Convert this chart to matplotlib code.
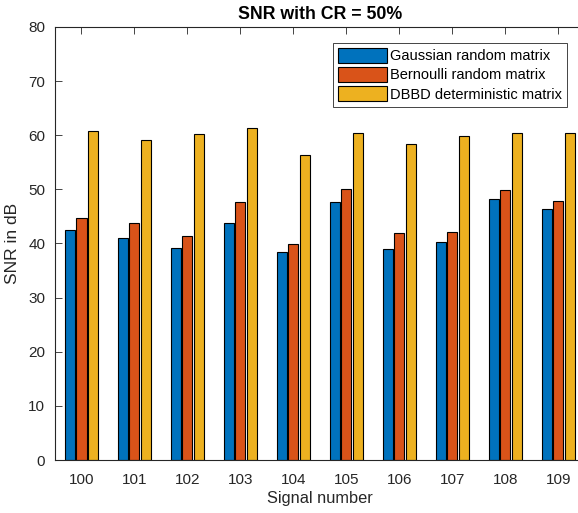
import matplotlib
matplotlib.use("Agg")
import matplotlib.pyplot as plt
import numpy as np

plt.rcParams['font.family'] = ['Liberation Sans', 'DejaVu Sans']

signals = [100, 101, 102, 103, 104, 105, 106, 107, 108, 109]
gaussian = [42.5, 41.0, 39.2, 43.8, 38.4, 47.7, 39.0, 40.3, 48.2, 46.4]
bernoulli = [44.8, 43.7, 41.4, 47.6, 39.9, 50.0, 41.9, 42.1, 49.8, 47.9]
dbbd = [60.8, 59.1, 60.2, 61.3, 56.4, 60.5, 58.3, 59.9, 60.5, 60.5]
series_names = ["Gaussian random matrix", "Bernoulli random matrix", "DBBD deterministic matrix"]
colors = ["#0072BD", "#D95319", "#EDB120"]

fig = plt.figure(figsize=(5.78, 5.13), dpi=100)
ax = fig.add_axes([55/578, 1-460/513, (584.7-55)/578, (460-27)/513])

x = np.array(signals, dtype=float)
offset = 0.22
width = 0.19
for i, (vals, name, c) in enumerate(zip([gaussian, bernoulli, dbbd], series_names, colors)):
    ax.bar(x + (i-1)*offset, vals, width=width, color=c, edgecolor='black',
           linewidth=0.8, label=name, zorder=2)

ax.set_xlim(99.5, 109.5)
ax.set_ylim(0, 80)
ax.set_xticks(signals)
ax.set_yticks(range(0, 81, 10))
ax.tick_params(direction='in', length=5, width=0.6, top=True, right=True,
               labelsize=11, colors='#262626', labelcolor='#262626')
ax.tick_params(axis='x', pad=9)
ax.tick_params(axis='y', pad=7)
for s in ax.spines.values():
    s.set_color('#262626')
    s.set_linewidth(0.8)

ax.set_title("SNR with CR = 50%", fontsize=12.8, fontweight='bold', color='black', pad=6)
ax.set_xlabel("Signal number", fontsize=11.8, color='#262626', labelpad=3)
ax.set_ylabel("SNR in dB", fontsize=12.6, color='#262626', labelpad=6)

leg = ax.legend(loc='upper left', bbox_to_anchor=((333-55)/(584.7-55), 1-(43-27)/433),
                fontsize=10.5, fancybox=False, framealpha=1, edgecolor='#262626',
                handlelength=3.35, handleheight=1.16, handletextpad=0.2,
                labelspacing=0.27, borderpad=0.35, borderaxespad=0)
leg.get_frame().set_linewidth(0.6)

fig.savefig("out.png", dpi=100)
